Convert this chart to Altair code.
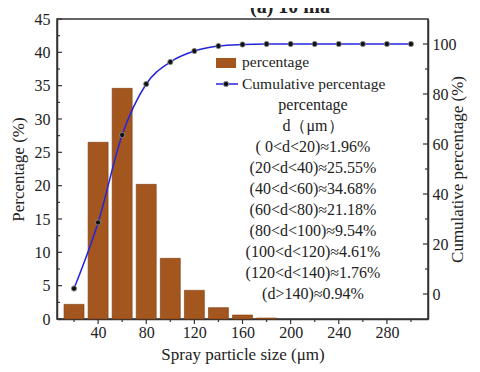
import altair as alt
import pandas as pd

# ---- data ----
sizes = [20, 40, 60, 80, 100, 120, 140, 160, 180]
percent = [2.2, 26.5, 34.6, 20.2, 9.1, 4.3, 1.7, 0.6, 0.15]

cum_sizes = [20, 40, 60, 80, 100, 120, 140, 160, 180, 200, 220, 240, 260, 280, 300]
cumulative = [2.2, 28.6, 63.6, 84.0, 92.8, 97.2, 99.2, 99.8, 100, 100, 100, 100, 100, 100, 100]

x_major = [40, 80, 120, 160, 200, 240, 280]
x_minor = [20, 60, 100, 140, 180, 220, 260, 300]
left_major = [0, 5, 10, 15, 20, 25, 30, 35, 40, 45]
left_minor = [2.5, 7.5, 12.5, 17.5, 22.5, 27.5, 32.5, 37.5, 42.5]
right_major = [0, 20, 40, 60, 80, 100]
right_minor = [10, 30, 50, 70, 90]

legend_labels = ["percentage", "Cumulative percentage"]
annotation = [
    "percentage",
    "d（μm）",
    "( 0<d<20)≈1.96%",
    "(20<d<40)≈25.55%",
    "(40<d<60)≈34.68%",
    "(60<d<80)≈21.18%",
    "(80<d<100)≈9.54%",
    "(100<d<120)≈4.61%",
    "(120<d<140)≈1.76%",
    "(d>140)≈0.94%",
]
title_text = "(a) 10 ma"

# ---- layout / style ----
W, H = 371, 300
FONT = "Liberation Serif"
BROWN = "#A4561F"
BLUE = "#2424dd"
INK = "#222222"
AX = "#333333"

df_bars = pd.DataFrame({"v": sizes, "pct": percent})
df_cum = pd.DataFrame({"v": cum_sizes, "cum": cumulative})
df_ann = pd.DataFrame({"line": annotation, "order": list(range(len(annotation)))})
one = pd.DataFrame({"k": [0]})

xs = alt.Scale(domain=[10, 310], nice=False, zero=False)
yl = alt.Scale(domain=[0, 45], nice=False)
yr = alt.Scale(domain=[-10, 110], nice=False, zero=False)

x_axis = alt.Axis(values=x_major, ticks=False, labelPadding=5, title="Spray particle size (μm)",
                  titlePadding=6)
left_axis = alt.Axis(values=left_major, ticks=False, labelPadding=7, title="Percentage (%)",
                     titlePadding=7)
right_axis = alt.Axis(values=right_major, ticks=False, labelPadding=4, orient="right",
                      title="Cumulative percentage (%)", titleAngle=270, titlePadding=10)

X = alt.X("v:Q", scale=xs, axis=x_axis)

bars = alt.Chart(df_bars).mark_bar(size=20, color=BROWN, stroke="#7c3d12", strokeWidth=0.6).encode(
    x=X,
    y=alt.Y("pct:Q", scale=yl, axis=left_axis),
)


def rule_layer(vals, **enc):
    return alt.Chart(pd.DataFrame({"v": vals, "w": vals})).mark_rule(color=AX, strokeWidth=1.2).encode(**enc)


lt_major = rule_layer(left_major, y=alt.Y("w:Q", scale=yl, axis=left_axis), x=alt.value(0), x2=alt.value(5))
lt_minor = rule_layer(left_minor, y=alt.Y("w:Q", scale=yl, axis=left_axis), x=alt.value(0), x2=alt.value(3))
bt_major = rule_layer(x_major, x=X, y=alt.value(H), y2=alt.value(H + 5))
bt_minor = rule_layer(x_minor, x=X, y=alt.value(H), y2=alt.value(H + 3))

left = alt.layer(bars, lt_major, lt_minor, bt_major, bt_minor)

line = alt.Chart(df_cum).mark_line(color=BLUE, strokeWidth=1.5, interpolate="monotone").encode(
    x=X,
    y=alt.Y("cum:Q", scale=yr, axis=right_axis),
)
pts = alt.Chart(df_cum).mark_point(filled=True, size=28, fill="#111111", stroke="#9a9a9a",
                                   strokeWidth=0.8, opacity=1).encode(
    x=X,
    y=alt.Y("cum:Q", scale=yr, axis=right_axis),
)
rt_major = rule_layer(right_major, y=alt.Y("w:Q", scale=yr, axis=right_axis), x=alt.value(W - 5), x2=alt.value(W))
rt_minor = rule_layer(right_minor, y=alt.Y("w:Q", scale=yr, axis=right_axis), x=alt.value(W - 3), x2=alt.value(W))

right = alt.layer(line, pts, rt_major, rt_minor)

# legend inside plot
leg_rect = alt.Chart(one).mark_rect(color=BROWN).encode(
    x=alt.value(159), x2=alt.value(179), y=alt.value(39), y2=alt.value(49))
leg_line = alt.Chart(one).mark_rule(color=BLUE, strokeWidth=1.5).encode(
    x=alt.value(159), x2=alt.value(181), y=alt.value(65))
leg_pt = alt.Chart(one).mark_point(filled=True, size=28, fill="#111111", stroke="#9a9a9a",
                                   strokeWidth=0.8, opacity=1).encode(x=alt.value(169), y=alt.value(65))
df_leg = pd.DataFrame({"lab": legend_labels, "order": [0, 1]})
leg_txt = alt.Chart(df_leg).transform_calculate(py="43 + 22*datum.order").mark_text(
    font=FONT, fontSize=15.5, align="left", baseline="middle", color=INK).encode(
    x=alt.value(185), y=alt.Y("py:Q", scale=None, axis=None), text="lab:N")

ann = alt.Chart(df_ann).transform_calculate(py="86 + 21*datum.order").mark_text(
    font=FONT, fontSize=16, align="center", baseline="middle", color=INK).encode(
    x=alt.value(256), y=alt.Y("py:Q", scale=None, axis=None), text="line:N")

ttl = alt.Chart(pd.DataFrame({"t": [title_text]})).mark_text(
    font=FONT, fontSize=20, fontWeight="bold", align="center", baseline="alphabetic", color=INK).encode(
    x=alt.value(233), y=alt.value(-6), text="t:N")

chart = alt.layer(left, right, leg_rect, leg_line, leg_pt, leg_txt, ann, ttl).resolve_scale(
    y="independent"
).properties(
    width=W, height=H,
    autosize=alt.AutoSizeParams(type="none"),
    padding={"left": 49, "top": 11, "right": 44, "bottom": 45},
).configure_view(
    stroke=AX, strokeWidth=1.5
).configure_axis(
    labelFont=FONT, labelFontSize=16, labelColor=INK,
    titleFont=FONT, titleFontSize=17, titleFontWeight="normal", titleColor=INK,
    domainColor=AX, domainWidth=1.5, grid=False,
)

chart.save("out.html", embed_options={"renderer": "svg", "actions": False})
